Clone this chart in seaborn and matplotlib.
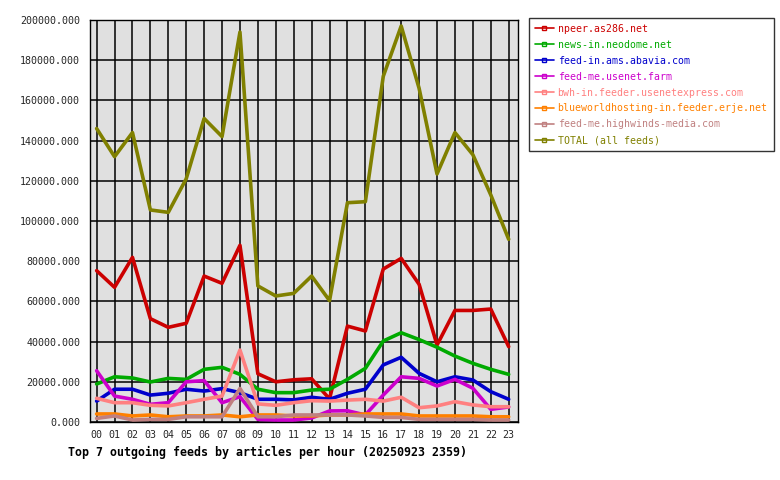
import matplotlib
matplotlib.use("Agg")
import matplotlib.pyplot as plt
from matplotlib.lines import Line2D
import seaborn as sns
import pandas as pd

hours = [f"{h:02d}" for h in range(24)]

feeds = ["npeer.as286.net", "news-in.neodome.net", "feed-in.ams.abavia.com",
         "feed-me.usenet.farm", "bwh-in.feeder.usenetexpress.com",
         "blueworldhosting-in.feeder.erje.net", "feed-me.highwinds-media.com",
         "TOTAL (all feeds)"]
colors = ["#cc0000", "#00aa00", "#0000cc", "#cc00cc", "#ff8080", "#ff8000",
          "#c08080", "#808000"]

npeer = [75300, 67000, 81900, 51400, 47100, 49100, 72600, 69000, 87900, 24000,
         20000, 21000, 21500, 11500, 47700, 45300, 76100, 81400, 68500, 38300,
         55500, 55500, 56200, 37500]
neodome = [18900, 22500, 21900, 19900, 21700, 21200, 26200, 27200, 23700, 16300,
           14600, 14600, 15900, 16300, 21200, 26700, 40300, 44400, 41000, 37200,
           32800, 29200, 26200, 23700]
abavia = [10400, 16300, 16300, 13400, 14300, 16300, 15400, 16600, 14600, 11300,
          11300, 11000, 12300, 11300, 14300, 16300, 28400, 32200, 24200, 20000,
          22500, 20900, 15100, 11300]
usenetfarm = [25500, 12900, 11300, 8800, 9600, 20000, 20600, 9600, 12600, 1300,
              1000, 1000, 2000, 5500, 5600, 3500, 13400, 22500, 21700, 17900,
              21200, 16800, 6300, 7500]
usenetexpress = [11800, 9600, 9600, 8300, 8000, 9600, 11300, 12900, 35800, 9000,
                 8300, 9600, 10600, 10400, 10900, 11300, 10400, 12300, 7100, 8000,
                 10100, 8500, 7600, 7600]
erje = [4000, 4000, 3000, 3500, 2600, 3000, 3000, 3500, 2600, 3500,
        3500, 3000, 3000, 3500, 3500, 4000, 4000, 4000, 3000, 3000,
        3000, 3000, 2600, 2600]
highwinds = [1800, 3000, 1000, 1300, 1300, 2600, 2600, 2600, 16700, 2600,
             2600, 3500, 3500, 3500, 3500, 3000, 2300, 2300, 1300, 1300,
             1300, 1300, 1000, 1000]
total = [146000, 132000, 144000, 105500, 104300, 121000, 151000, 142000, 194000,
         67700, 62700, 64000, 72600, 60400, 109100, 109600, 172000, 197000,
         166000, 123400, 144000, 133000, 113000, 90900]

series = [npeer, neodome, abavia, usenetfarm, usenetexpress, erje, highwinds, total]

rows = []
for name, vals in zip(feeds, series):
    for i, v in enumerate(vals):
        rows.append({"hour": i, "feed": name, "articles": v})
df = pd.DataFrame(rows)

sns.set_style("white")
plt.rcParams["font.family"] = ["DejaVu Sans Mono", "DejaVu Sans"]

fig = plt.figure(figsize=(7.8, 4.8), dpi=100)
ax = fig.add_axes([90 / 780, 1 - 422 / 480, (518 - 90) / 780, (422 - 20) / 480])
ax.set_facecolor("#e0e0e0")

sns.lineplot(data=df, x="hour", y="articles", hue="feed", hue_order=feeds,
             palette=dict(zip(feeds, colors)), linewidth=2.6, ax=ax,
             legend=False, zorder=3)

ax.set_xlim(-0.37, 23.52)
ax.set_ylim(0, 200000)
ax.set_xticks(range(24))
ax.set_xticklabels(hours)
ax.set_yticks(range(0, 200001, 20000))
ax.set_yticklabels([f"{v}.000" for v in range(0, 200001, 20000)])
ax.grid(True, color="black", linewidth=1.1, zorder=1)
ax.set_axisbelow(True)
ax.tick_params(axis="x", length=0, pad=6, labelsize=7.2)
ax.tick_params(axis="y", length=4, width=1, color="black", pad=3, labelsize=7.2)
ax.set_xlabel("")
ax.set_ylabel("")
for s in ax.spines.values():
    s.set_color("black")
    s.set_linewidth(1)

handles = [Line2D([0], [0], color=c, lw=1.2, marker="s", markersize=3,
                  markerfacecolor="none", markeredgecolor=c, markeredgewidth=1)
           for c in colors]
leg = fig.legend(handles, feeds, loc="upper left",
                 bbox_to_anchor=(529 / 780, 1 - 18 / 480),
                 frameon=True, fancybox=False, edgecolor="black",
                 prop={"size": 7.1}, handlelength=1.9, handletextpad=0.4,
                 labelspacing=0.6, borderpad=0.6, borderaxespad=0)
leg.get_frame().set_linewidth(1)
for t, c in zip(leg.get_texts(), colors):
    t.set_color(c)

fig.text(68 / 780, 1 - 452 / 480,
         "Top 7 outgoing feeds by articles per hour (20250923 2359)",
         ha="left", va="center", fontsize=8.35, fontweight="bold", color="black")

fig.savefig("out.png", dpi=100, facecolor="white")
